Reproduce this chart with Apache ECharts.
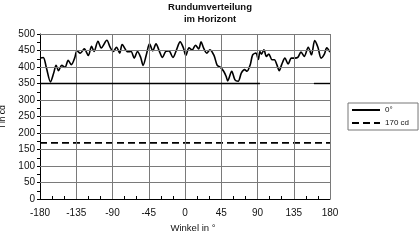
<!DOCTYPE html>
<html>
<head>
<meta charset="utf-8">
<script src="https://cdn.jsdelivr.net/npm/echarts@6/dist/echarts.min.js"></script>
<style>html,body{margin:0;padding:0;background:#fff;}#c{width:420px;height:240px;}</style>
</head>
<body>
<div id="c"></div>
<script>
var titleText = 'Rundumverteilung\nim Horizont';
var xName = 'Winkel in °';
var yName = 'I in cd';
var seriesNames = ['0°', '170 cd'];
var angles = [-180,-176,-172,-167,-163,-160,-157,-153,-149,-145,-141,-137,-134,-130,-125,-120,-116,-113,-108,-104,-97,-93,-89,-85,-81,-78,-71,-67,-63,-59,-55,-52,-48,-44,-40,-36,-32,-28,-24,-20,-15,-11,-6,-2,1,5,9,13,17,20,23,27,31,36,40,44,48,51,53,58,62,66,70,74,77,81,84,88,91,93,95,98,101,104,108,111,114,117,120,124,128,132,136,140,144,148,153,157,161,165,169,173,176,180];
var intensity = [427,429,397,355,382,405,389,405,399,420,407,427,449,442,455,435,463,447,478,458,481,460,447,460,442,468,446,447,427,447,429,405,437,470,449,470,449,429,447,449,429,449,476,458,435,458,452,466,455,476,458,442,452,435,405,399,387,372,358,387,361,357,382,392,387,407,437,442,423,447,439,452,432,439,422,422,407,389,407,427,409,427,427,429,445,432,460,437,480,460,427,439,458,445];
var limitValue = 170;
var limitAngles = [-180, 180];
var measuredLevel = 350;
var measuredLabel = 'Messwerte';
var limitLabel = 'Untergrenze';
var xTicks = [-180, 180, 45];
var yTicks = [0, 500, 50];

var curve = angles.map(function (a, i) { return [a, intensity[i]]; });
var limitLine = limitAngles.map(function (a) { return [a, limitValue]; });

var gridStyle = {color: '#7a7a7a', width: 1, type: 'solid', opacity: 1};
var gridLines = [];
for (var gx = xTicks[0] + xTicks[2]; gx <= xTicks[1]; gx += xTicks[2]) {
  gridLines.push([{coord: [gx, yTicks[0]], lineStyle: gridStyle}, {coord: [gx, yTicks[1]]}]);
}
for (var gy = yTicks[0] + yTicks[2]; gy <= yTicks[1]; gy += yTicks[2]) {
  if (gy === measuredLevel) continue;
  gridLines.push([{coord: [xTicks[0], gy], lineStyle: gridStyle}, {coord: [xTicks[1], gy]}]);
}

var chart = echarts.init(document.getElementById('c'), null, {renderer: 'canvas'});
var font = 'Liberation Sans, Arial, sans-serif';
chart.setOption({
  animation: false,
  textStyle: {fontFamily: font},
  title: {
    text: titleText, left: 'center', top: 1, padding: 0,
    textStyle: {fontSize: 9.5, fontWeight: 'bold', lineHeight: 12, color: '#111', fontFamily: font}
  },
  legend: {
    data: seriesNames, orient: 'vertical', left: 348, top: 103,
    padding: [3, 9, 3, 3], itemGap: 5, itemWidth: 28, itemHeight: 8,
    borderColor: '#777', borderWidth: 1,
    itemStyle: {opacity: 0},
    textStyle: {fontSize: 8, color: '#111', fontFamily: font}
  },
  grid: {left: 40, right: 90, top: 34, bottom: 41, outerBoundsMode: 'none', containLabel: false},
  xAxis: {
    type: 'value', min: xTicks[0], max: xTicks[1], interval: xTicks[2],
    name: xName, nameLocation: 'middle', nameGap: 17,
    nameTextStyle: {fontSize: 9.5, color: '#111', padding: [0, 0, 0, 16]},
    axisLine: {show: true, onZero: false, lineStyle: {color: '#000', width: 1}},
    axisTick: {show: true, inside: true, length: 3, lineStyle: {color: '#000'}},
    minorTick: {show: true, splitNumber: 3, length: 3, lineStyle: {color: '#000'}},
    axisLabel: {fontSize: 10, color: '#111', margin: 9},
    splitLine: {show: false}
  },
  yAxis: {
    type: 'value', min: yTicks[0], max: yTicks[1], interval: yTicks[2],
    name: yName, nameLocation: 'middle', nameGap: 26,
    nameTextStyle: {fontSize: 8.5, color: '#111'},
    axisLine: {show: true, onZero: false, lineStyle: {color: '#000', width: 1}},
    axisTick: {show: true, length: 3, lineStyle: {color: '#000'}},
    minorTick: {show: true, splitNumber: 2, length: 3, lineStyle: {color: '#000'}},
    axisLabel: {fontSize: 10, color: '#111', margin: 5},
    splitLine: {show: true, lineStyle: {color: ['#7a7a7a'], width: 1, type: 'solid'}}
  },
  series: [
    {
      name: seriesNames[0], type: 'line', data: curve, symbol: 'none', smooth: 0.3, z: 4,
      lineStyle: {color: '#000', width: 1.6}, itemStyle: {color: '#000'}
    },
    {
      name: seriesNames[1], type: 'line', data: limitLine, symbol: 'none', z: 3,
      lineStyle: {color: '#000', width: 1.6, type: [7, 4]}, itemStyle: {color: '#000'},
      markLine: {
        silent: true, symbol: ['none', 'none'], animation: false,
        lineStyle: {color: '#000', width: 1.4, type: 'solid'},
        label: {show: false},
        data: gridLines.concat([
          [{coord: [-180, measuredLevel]}, {coord: [93, measuredLevel]}],
          [{coord: [160, measuredLevel]}, {coord: [180, measuredLevel]}],
          [{coord: [101, measuredLevel], lineStyle: {opacity: 0},
            label: {show: true, formatter: measuredLabel, position: 'insideMiddle', fontSize: 8, color: '#222', fontFamily: font,
              backgroundColor: '#fff', padding: [1, 1]}},
           {coord: [141, measuredLevel]}],
          [{coord: [104, 128], lineStyle: {opacity: 0},
            label: {show: true, formatter: limitLabel, position: 'insideMiddle', fontSize: 8, color: '#222', fontFamily: font,
              backgroundColor: '#fff', padding: [1, 1]}},
           {coord: [144, 128]}]
        ])
      }
    }
  ]
});
</script>
</body>
</html>
